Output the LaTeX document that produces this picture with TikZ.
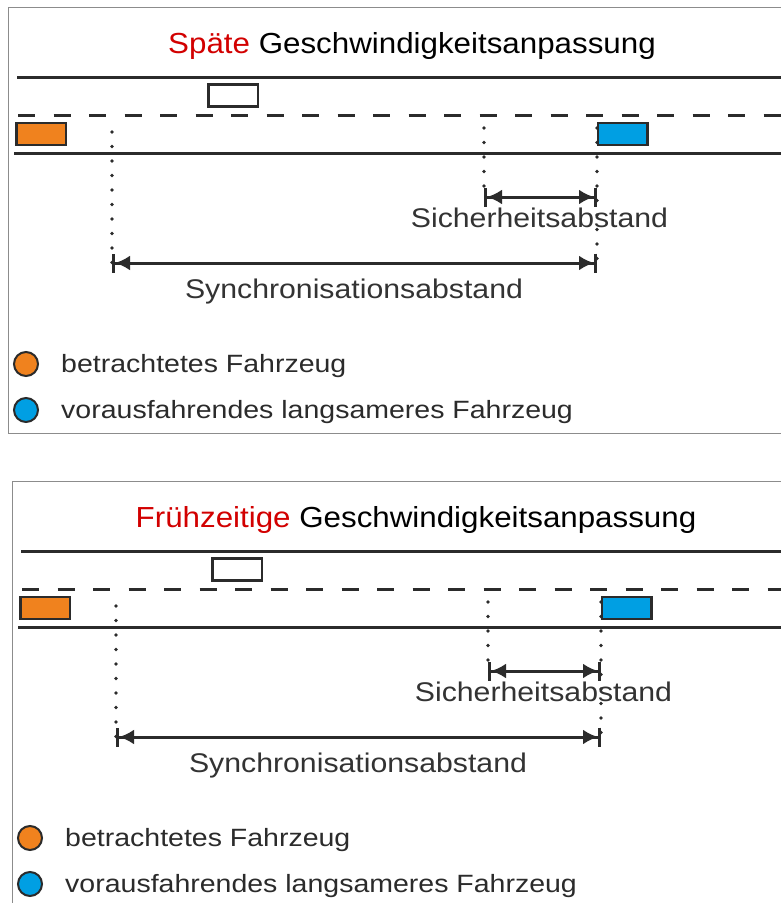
\documentclass[tikz,border=0pt]{standalone}
\usepackage{fontspec}
\setmainfont{Liberation Sans}
\usetikzlibrary{arrows.meta}

\definecolor{ink}{HTML}{2B2B2B}
\definecolor{framegray}{HTML}{8C8C8C}
\definecolor{titlered}{HTML}{D20000}
\definecolor{carorange}{HTML}{F0821E}
\definecolor{carblue}{HTML}{009FE3}
\definecolor{labelgray}{HTML}{333333}

\tikzset{
  panelframe/.style={draw=framegray, line width=1pt},
  road/.style={draw=ink, line width=3pt},
  lanemark/.style={draw=ink, line width=3pt, dash pattern=on 17pt off 18.5pt},
  car/.style={draw=ink, line width=2.5pt, minimum width=49.5pt, minimum height=22pt, inner sep=0pt},
  guide/.style={draw=ink, line width=3.6pt, line cap=round, dash pattern=on 0pt off 14.5pt},
  dimline/.style={draw=ink, line width=3pt,
    arrows={{Bar[width=19pt,line width=3pt]Latex[length=15pt,width=15pt]}-{Latex[length=15pt,width=15pt]Bar[width=19pt,line width=3pt]}}},
  titletext/.style={font=\fontsize{29}{32}\selectfont, text=black, inner sep=0pt, xscale=1.08, anchor=base},
  dimtext/.style={font=\fontsize{27}{30}\selectfont, text=labelgray, inner sep=0pt, xscale=1.12, anchor=base},
  legdot/.style={circle, draw=ink, line width=2pt, minimum size=24pt, inner sep=0pt},
  legtext/.style={font=\fontsize{25}{28}\selectfont, text=ink, inner sep=0pt, xscale=1.14, anchor=base west},
}

\begin{document}
\begin{tikzpicture}[x=1pt, y=-1pt]
  \useasboundingbox (0,0) rectangle (781,903);
  \fill[white] (0,0) rectangle (781,903);
  \clip (0,0) rectangle (781,903);

  \foreach \dx/\dy/\word/\i in {0/0/Späte/a, 4/474/Frühzeitige/b} {
    \begin{scope}[shift={(\dx,\dy)}]
      % panel border (right and lower edges run past the page)
      \draw[panelframe] (8,7) rectangle (800,433);

      % heading
      \node[titletext] (title\i) at (412,53) {\textcolor{titlered}{\word} Geschwindigkeitsanpassung};

      % two-lane road
      \draw[road] (17,77) -- (781,77);
      \draw[lanemark] (18,115) -- (781,115);
      \draw[road] (14,153) -- (781,153);

      % vehicles
      \node[car, fill=white] (other\i) at (233,95.5) {};
      \node[car, fill=carorange] (ego\i) at (41,134) {};
      \node[car, fill=carblue] (lead\i) at (622.5,134) {};

      % reference lines and distances
      \coordinate (syncL\i) at (112,263);
      \coordinate (syncR\i) at (597,263);
      \coordinate (safeL\i) at (484,197);
      \coordinate (safeR\i) at (597,197);

      \draw[guide] (112,132) -- (syncL\i);
      \draw[guide] (484,128) -- (safeL\i);
      \draw[guide] (597,128) -- (syncR\i);

      \draw[dimline] (safeL\i) -- (safeR\i);
      \draw[dimline] (syncL\i) -- (syncR\i);

      \node[dimtext] (safetxt\i) at (539.5,227) {Sicherheitsabstand};
      \node[dimtext] (synctxt\i) at (354,298) {Synchronisationsabstand};

      % legend
      \node[legdot, fill=carorange] (legego\i) at (26,364) {};
      \node[legtext] (legegotxt\i) at (61,372) {betrachtetes Fahrzeug};
      \node[legdot, fill=carblue] (leglead\i) at (26,410) {};
      \node[legtext] (legleadtxt\i) at (61,418) {vorausfahrendes langsameres Fahrzeug};
    \end{scope}
  }
\end{tikzpicture}
\end{document}
